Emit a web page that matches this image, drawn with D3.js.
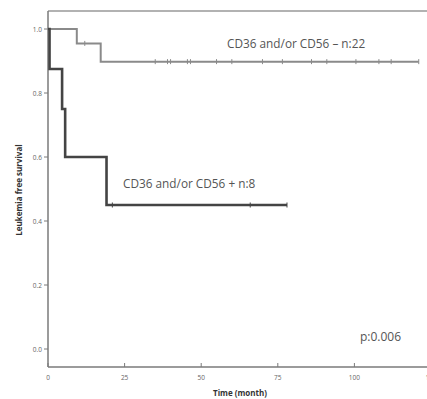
<!DOCTYPE html>
<html><head><meta charset="utf-8">
<script src="https://cdn.jsdelivr.net/npm/d3@7"></script>
<style>body{margin:0;background:#fff}svg{display:block}</style>
</head><body>
<svg id="c" width="427" height="399"></svg>
<script>
// Data
const negTimes = [0, 9.4, 17.2, 121];
const negSurv  = [1.0, 0.955, 0.898, 0.898];
const negCensor = [12, 35, 39, 40, 45.5, 46.5, 55, 60, 70, 76.5, 86, 91, 100.5, 108, 112, 121];
const posTimes = [0, 0.5, 4.6, 5.6, 19.1, 78];
const posSurv  = [1.0, 0.875, 0.75, 0.6, 0.45, 0.45];
const posCensor = [21, 66, 78];
const xTicks = [0, 25, 50, 75, 100, 125];
const yTicks = [0.0, 0.2, 0.4, 0.6, 0.8, 1.0];
const labels = ["CD36 and/or CD56 \u2013 n:22", "CD36 and/or CD56 + n:8", "p:0.006"];

const svg = d3.select("#c");
const x = d3.scaleLinear().domain([0, 125]).range([48, 431]);
const y = d3.scaleLinear().domain([0, 1]).range([349, 29]);
const axisCol = "#7a7a7a", textCol = "#555";
const font = "'Open Sans', 'DejaVu Sans', sans-serif";

// frame
svg.append("line").attr("x1", 48).attr("x2", 427).attr("y1", 11).attr("y2", 11).attr("stroke", "#999").attr("stroke-width", 1.3);
svg.append("line").attr("x1", 48).attr("x2", 48).attr("y1", 11).attr("y2", 367).attr("stroke", axisCol).attr("stroke-width", 1.5);
svg.append("line").attr("x1", 48).attr("x2", 427).attr("y1", 367).attr("y2", 367).attr("stroke", axisCol).attr("stroke-width", 1.5);

// y ticks
const yg = svg.append("g");
yTicks.forEach(v => {
  yg.append("line").attr("x1", 44).attr("x2", 48).attr("y1", y(v)).attr("y2", y(v)).attr("stroke", axisCol).attr("stroke-width", 1);
  yg.append("text").attr("x", 42).attr("y", y(v) + 2.5).attr("text-anchor", "end")
    .attr("font-size", 6.5).attr("font-family", font).attr("fill", "#666").text(d3.format(".1f")(v));
});
// x ticks
const xg = svg.append("g");
xTicks.forEach(v => {
  xg.append("line").attr("x1", x(v)).attr("x2", x(v)).attr("y1", 363).attr("y2", 367).attr("stroke", axisCol).attr("stroke-width", 1);
  xg.append("text").attr("x", x(v)).attr("y", 380).attr("text-anchor", "middle")
    .attr("font-size", 6.5).attr("font-family", font).attr("fill", "#666").text(v);
});

// axis titles
svg.append("text").attr("x", 240).attr("y", 396).attr("text-anchor", "middle")
  .attr("font-size", 8).attr("font-weight", "bold").attr("font-family", font).attr("fill", "#333").text("Time (month)");
svg.append("text").attr("transform", "translate(22,190) rotate(-90)").attr("text-anchor", "middle")
  .attr("font-size", 8).attr("font-weight", "bold").attr("font-family", font).attr("fill", "#333").text("Leukemia free survival");

// step curves
const line = d3.line().x(d => x(d[0])).y(d => y(d[1])).curve(d3.curveStepAfter);
function survAt(times, surv, t) {
  let s = surv[0];
  for (let i = 0; i < times.length; i++) if (times[i] <= t) s = surv[i];
  return s;
}
function drawCurve(times, surv, censor, col, w) {
  const pts = times.map((t, i) => [t, surv[i]]);
  svg.append("path").attr("d", line(pts)).attr("fill", "none").attr("stroke", col).attr("stroke-width", w);
  censor.forEach(t => {
    const s = survAt(times, surv, t);
    svg.append("line").attr("x1", x(t)).attr("x2", x(t)).attr("y1", y(s) - 2.5).attr("y2", y(s) + 2.5)
      .attr("stroke", col).attr("stroke-width", 1);
  });
}
drawCurve(negTimes, negSurv, negCensor, "#8a8a8a", 2);
drawCurve(posTimes, posSurv, posCensor, "#444", 2.6);

// labels
svg.append("text").attr("x", 227).attr("y", 48).attr("font-size", 11.8).attr("font-family", font).attr("fill", textCol).text(labels[0]);
svg.append("text").attr("x", 123).attr("y", 188).attr("font-size", 11.8).attr("font-family", font).attr("fill", textCol).text(labels[1]);
svg.append("text").attr("x", 360).attr("y", 341).attr("font-size", 12).attr("font-family", font).attr("fill", textCol).text(labels[2]);
</script>
</body></html>
